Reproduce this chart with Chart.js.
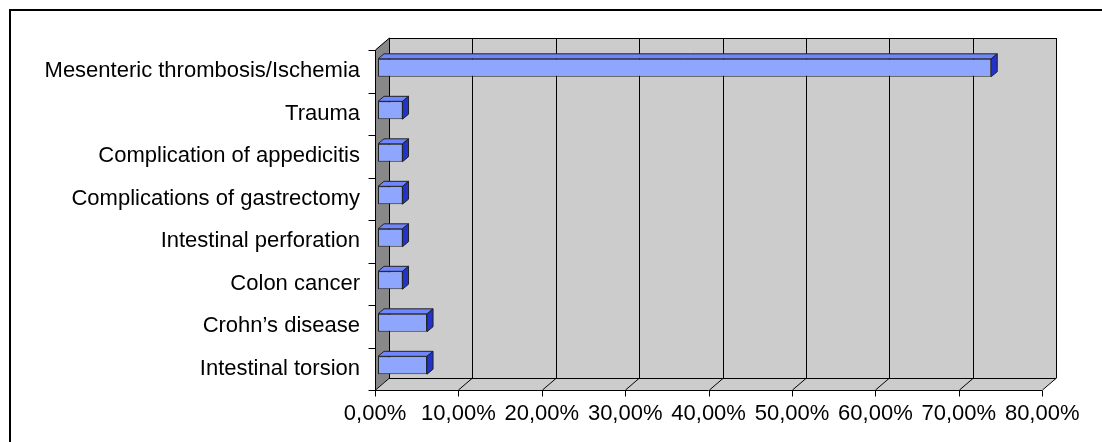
<!DOCTYPE html>
<html>
<head>
<meta charset="utf-8">
<title>Causes</title>
<script src="https://cdn.jsdelivr.net/npm/chart.js@4/dist/chart.umd.min.js"></script>
<style>
  html, body { margin: 0; padding: 0; background: #ffffff; }
  canvas { display: block; }
</style>
</head>
<body>
<canvas id="chart" width="1102" height="442"></canvas>
<script>
// Categories, top to bottom
const categories = [
  'Mesenteric thrombosis/Ischemia',
  'Trauma',
  'Complication of appedicitis',
  'Complications of gastrectomy',
  'Intestinal perforation',
  'Colon cancer',
  'Crohn\u2019s disease',
  'Intestinal torsion'
];

// Share of cases (fraction of total)
const shares = [0.7353, 0.0294, 0.0294, 0.0294, 0.0294, 0.0294, 0.0588, 0.0588];

// Value axis tick labels (0 .. 80 %, step 10 %)
const xTickLabels = ['0,00%', '10,00%', '20,00%', '30,00%', '40,00%', '50,00%', '60,00%', '70,00%', '80,00%'];

// 3D look: the bars sit a little behind the front plane of the box
const PLANE = { dx: 3, dy: -3.5 };   // bar plane relative to front plane
const DEPTH = { dx: 14, dy: -12 };   // back wall relative to front plane
const BAR_DEPTH = { dx: 6, dy: -5 }; // thickness of each bar

const FONT = { family: '"Liberation Sans", Arial, sans-serif', size: 22 };

const box3d = {
  id: 'box3d',
  beforeDraw(chart) {
    const ctx = chart.ctx;
    const xs = chart.scales.x, ys = chart.scales.y, a = chart.chartArea;
    ctx.save();
    ctx.fillStyle = '#ffffff';
    ctx.fillRect(0, 0, chart.width, chart.height);

    // outer frame
    ctx.strokeStyle = '#000000';
    ctx.lineWidth = 2;
    ctx.strokeRect(10, 10, chart.width + 20, chart.height + 20);

    const L = xs.getPixelForValue(0) - PLANE.dx;
    const R = xs.getPixelForValue(0.8) - PLANE.dx;
    const T = a.top - PLANE.dy;
    const B = a.bottom - PLANE.dy;
    const dx = DEPTH.dx, dy = DEPTH.dy;

    ctx.lineWidth = 1;
    // back wall
    ctx.fillStyle = '#cccccc';
    ctx.fillRect(L + dx, T + dy, R - L, B - T);
    // floor
    ctx.beginPath();
    ctx.moveTo(L, B); ctx.lineTo(R, B); ctx.lineTo(R + dx, B + dy); ctx.lineTo(L + dx, B + dy);
    ctx.closePath();
    ctx.fill();
    // left wall
    ctx.fillStyle = '#888888';
    ctx.beginPath();
    ctx.moveTo(L, T); ctx.lineTo(L + dx, T + dy); ctx.lineTo(L + dx, B + dy); ctx.lineTo(L, B);
    ctx.closePath();
    ctx.fill();

    // grid lines on back wall and floor
    ctx.strokeStyle = '#000000';
    xs.ticks.forEach(t => {
      const x = Math.round(xs.getPixelForValue(t.value) - PLANE.dx) + 0.5;
      ctx.beginPath();
      ctx.moveTo(x + dx, T + dy);
      ctx.lineTo(x + dx, B + dy);
      ctx.lineTo(x, B);
      ctx.stroke();
    });

    // back wall outline
    ctx.beginPath();
    ctx.moveTo(Math.round(L + dx) + 0.5, B + dy);
    ctx.lineTo(Math.round(L + dx) + 0.5, Math.round(T + dy) + 0.5);
    ctx.lineTo(Math.round(R + dx) + 0.5, Math.round(T + dy) + 0.5);
    ctx.lineTo(Math.round(R + dx) + 0.5, B + dy);
    ctx.stroke();
    // left wall outline
    ctx.beginPath();
    ctx.moveTo(L + 0.5, T); ctx.lineTo(L + dx + 0.5, T + dy);
    ctx.stroke();

    // floor back edge
    ctx.beginPath();
    ctx.moveTo(L + dx, Math.round(B + dy) + 0.5); ctx.lineTo(R + dx, Math.round(B + dy) + 0.5);
    ctx.stroke();

    // category axis with ticks
    const xl = Math.round(L) + 0.5;
    ctx.beginPath();
    ctx.moveTo(xl, T); ctx.lineTo(xl, B);
    const n = ys.ticks.length;
    for (let i = 0; i <= n; i++) {
      const y = Math.round(T + i * (B - T) / n) + 0.5;
      ctx.moveTo(xl - 7, y); ctx.lineTo(xl, y);
    }
    ctx.stroke();

    // value axis with ticks
    const yb = Math.round(B) + 0.5;
    ctx.beginPath();
    ctx.moveTo(L, yb); ctx.lineTo(R, yb);
    xs.ticks.forEach(t => {
      const x = Math.round(xs.getPixelForValue(t.value) - PLANE.dx) + 0.5;
      ctx.moveTo(x, yb); ctx.lineTo(x, yb + 6);
    });
    ctx.stroke();
    ctx.restore();
  },
  afterDatasetsDraw(chart) {
    const ctx = chart.ctx;
    const meta = chart.getDatasetMeta(0);
    ctx.save();
    ctx.lineWidth = 1;
    ctx.strokeStyle = '#222222';
    ctx.lineJoin = 'miter';
    meta.data.forEach(el => {
      const p = el.getProps(['x', 'y', 'base', 'height'], true);
      const top = p.y - p.height / 2;
      const bx = BAR_DEPTH.dx, by = BAR_DEPTH.dy;
      // top face
      ctx.fillStyle = '#6f86ff';
      ctx.beginPath();
      ctx.moveTo(p.base, top); ctx.lineTo(p.x, top);
      ctx.lineTo(p.x + bx, top + by); ctx.lineTo(p.base + bx, top + by);
      ctx.closePath();
      ctx.fill(); ctx.stroke();
      // end face
      ctx.fillStyle = '#2233c8';
      ctx.beginPath();
      ctx.moveTo(p.x, top); ctx.lineTo(p.x + bx, top + by);
      ctx.lineTo(p.x + bx, top + by + p.height); ctx.lineTo(p.x, top + p.height);
      ctx.closePath();
      ctx.fill(); ctx.stroke();
    });
    ctx.restore();
  }
};

new Chart(document.getElementById('chart'), {
  type: 'bar',
  data: {
    labels: categories,
    datasets: [{
      data: shares,
      backgroundColor: '#8fa6ff',
      borderColor: '#222222',
      borderWidth: 1,
      borderSkipped: false,
      barPercentage: 0.42,
      categoryPercentage: 1.0
    }]
  },
  options: {
    indexAxis: 'y',
    responsive: false,
    animation: false,
    devicePixelRatio: 1,
    layout: { padding: { top: 46.5, right: 56.8, bottom: 0, left: 0 } },
    plugins: { legend: { display: false }, tooltip: { enabled: false } },
    scales: {
      x: {
        type: 'linear',
        min: 0,
        max: 0.8,
        grid: { display: false, drawTicks: false },
        border: { display: false },
        ticks: {
          stepSize: 0.1,
          color: '#000000',
          font: FONT,
          padding: 14,
          labelOffset: -PLANE.dx,
          maxRotation: 0,
          autoSkip: false,
          callback: (v, i) => xTickLabels[i]
        },
        afterFit: s => { s.height = 55.5; }
      },
      y: {
        type: 'category',
        grid: { display: false, drawTicks: false },
        border: { display: false },
        ticks: {
          color: '#000000',
          font: FONT,
          padding: 18,
          labelOffset: -PLANE.dy,
          autoSkip: false
        },
        afterFit: s => { s.width = 378; }
      }
    }
  },
  plugins: [box3d]
});
</script>
</body>
</html>
